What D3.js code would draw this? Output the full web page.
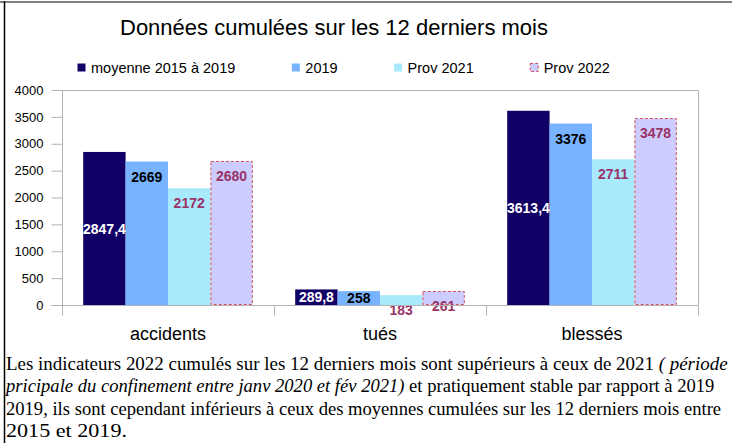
<!DOCTYPE html>
<html>
<head>
<meta charset="utf-8">
<script src="https://cdn.jsdelivr.net/npm/d3@7"></script>
<style>
  body { margin: 0; background: #fff; }
  svg { display: block; }
</style>
</head>
<body>
<div id="chart"></div>
<script>
// Données
const categories = ['accidents', 'tués', 'blessés'];
const seriesNames = ['moyenne 2015 à 2019', '2019', 'Prov 2021', 'Prov 2022'];
const moyenne2015a2019 = [2847.4, 289.8, 3613.4];
const annee2019 = [2669, 258, 3376];
const prov2021 = [2172, 183, 2711];
const prov2022 = [2680, 261, 3478];
const yTicks = [0, 500, 1000, 1500, 2000, 2500, 3000, 3500, 4000];
const titleText = 'Données cumulées sur les 12 derniers mois';
const paragraph = [
    [{ t: 'Les indicateurs 2022 cumulés sur les 12 derniers mois sont supérieurs à ceux de 2021 ' }, { t: '( période', i: true }],
    [{ t: 'pricipale du confinement entre janv 2020 et fév 2021)', i: true }, { t: ' et pratiquement stable par rapport à 2019' }],
    [{ t: '2019, ils sont cependant inférieurs à ceux des moyennes cumulées sur les 12 derniers mois entre' }],
    [{ t: '2015 et 2019.' }]
];
// largeur occupée par chaque ligne du commentaire
const lineWidths = [722, 711, 716, 121];

const allSeries = [moyenne2015a2019, annee2019, prov2021, prov2022];

const styles = [
    { fill: '#120066', label: '#ffffff', place: 'center' },
    { fill: '#77b3ff', label: '#000000', place: 'clamp' },
    { fill: '#a9e9fc', label: '#993366', place: 'inside' },
    { fill: '#ccccff', label: '#993366', place: 'inside', stroke: '#d2505c', dash: '3,2' }
];

const width = 732, height = 443;
const plot = { left: 62, right: 698, top: 90, bottom: 305 };

const svg = d3.select('#chart').append('svg')
    .attr('width', width)
    .attr('height', height)
    .style('font-family', '"Liberation Sans", Arial, sans-serif');

// cadre du document
svg.append('line')
    .attr('x1', 0).attr('x2', width).attr('y1', 2).attr('y2', 2)
    .attr('stroke', '#7f7f7f').attr('stroke-width', 2);
svg.append('line')
    .attr('x1', 4.5).attr('x2', 4.5).attr('y1', 1).attr('y2', height)
    .attr('stroke', '#000').attr('stroke-width', 1.5);

// titre
svg.append('text')
    .attr('x', 334).attr('y', 35)
    .attr('text-anchor', 'middle')
    .attr('font-size', '22px')
    .attr('fill', '#000')
    .text(titleText);

// légende
const legend = svg.append('g').attr('transform', 'translate(77,68)');
let lx = 0;
seriesNames.forEach((name, i) => {
    const item = legend.append('g').attr('transform', 'translate(' + lx + ',0)');
    item.append('rect')
        .attr('x', 0.5).attr('y', -4.5)
        .attr('width', 8).attr('height', 8)
        .attr('fill', styles[i].fill)
        .attr('stroke', styles[i].stroke || 'none')
        .attr('stroke-dasharray', styles[i].dash || null);
    const t = item.append('text')
        .attr('x', 14).attr('y', 5)
        .attr('font-size', '14.5px')
        .attr('fill', '#000')
        .text(name);
    lx += 14 + t.node().getComputedTextLength() + 56;
});

// échelles
const x0 = d3.scaleBand().domain(categories).range([plot.left, plot.right]).padding(0);
const x1 = d3.scaleBand().domain(d3.range(allSeries.length))
    .range([0, x0.bandwidth()]).paddingInner(0).paddingOuter(0.5);
const y = d3.scaleLinear().domain([0, 4000]).range([plot.bottom, plot.top]);

const axisColor = '#b3b3b3';

// cadre du graphique (haut et droite)
svg.append('path')
    .attr('d', 'M' + plot.left + ',' + (y(4000) + 0.5) + 'H' + (plot.right + 0.5) + 'V' + plot.bottom)
    .attr('fill', 'none').attr('stroke', axisColor);

// barres
const groups = svg.append('g').selectAll('g')
    .data(categories)
    .join('g')
    .attr('transform', d => 'translate(' + x0(d) + ',0)');

groups.selectAll('rect')
    .data((c, ci) => allSeries.map((s, si) => ({ si, v: s[ci] })))
    .join('rect')
    .attr('x', d => x1(d.si) + (styles[d.si].stroke ? 0.5 : 0))
    .attr('y', d => y(d.v) + (styles[d.si].stroke ? 0.5 : 0))
    .attr('width', d => x1.bandwidth() - (styles[d.si].stroke ? 1 : 0))
    .attr('height', d => y(0) - y(d.v) - (styles[d.si].stroke ? 1 : 0))
    .attr('fill', d => styles[d.si].fill)
    .attr('stroke', d => styles[d.si].stroke || 'none')
    .attr('stroke-dasharray', d => styles[d.si].dash || null);

// axe Y
const yAxis = svg.append('g')
    .attr('transform', 'translate(' + (plot.left + 0.5) + ',0)')
    .call(d3.axisLeft(y).tickValues(yTicks).tickSize(11).tickPadding(8).tickFormat(d3.format('d')));
yAxis.select('.domain').attr('stroke', axisColor).attr('d', 'M0,' + plot.top + 'V' + (plot.bottom + 10));
yAxis.selectAll('.tick line').attr('stroke', axisColor);
yAxis.selectAll('.tick text')
    .attr('font-size', '13px')
    .attr('font-family', '"Liberation Sans", Arial, sans-serif')
    .attr('fill', '#000');

// axe X
const xAxis = svg.append('g')
    .attr('transform', 'translate(0,' + (plot.bottom + 0.5) + ')')
    .call(d3.axisBottom(x0).tickSize(0).tickPadding(22));
xAxis.select('.domain').attr('stroke', axisColor).attr('d', 'M' + (plot.left - 11) + ',0H' + (plot.right + 0.5));
xAxis.selectAll('.tick text')
    .attr('font-size', '18px')
    .attr('font-family', '"Liberation Sans", Arial, sans-serif')
    .attr('fill', '#000');
xAxis.selectAll('.sep')
    .data(categories.map(c => x0(c)).concat([plot.right]))
    .join('line')
    .attr('class', 'sep')
    .attr('x1', d => Math.round(d) + 0.5).attr('x2', d => Math.round(d) + 0.5)
    .attr('y1', 0).attr('y2', 10)
    .attr('stroke', axisColor);

// étiquettes des valeurs
const fmt = v => String(v).replace('.', ',');
groups.selectAll('text.val')
    .data((c, ci) => allSeries.map((s, si) => ({ si, v: s[ci] })))
    .join('text')
    .attr('class', 'val')
    .attr('x', d => x1(d.si) + x1.bandwidth() / 2)
    .attr('y', d => {
        const top = y(d.v), mid = (y(d.v) + y(0)) / 2;
        const p = styles[d.si].place;
        if (p === 'center') return mid;
        if (p === 'clamp') return Math.min(top + 15, mid);
        return top + 15;
    })
    .attr('dy', '0.36em')
    .attr('text-anchor', 'middle')
    .attr('font-size', '14px')
    .attr('font-weight', 'bold')
    .attr('fill', d => styles[d.si].label)
    .text(d => fmt(d.v));

// commentaire sous le graphique
const para = svg.append('g')
    .attr('transform', 'translate(6,0)')
    .style('font-family', '"Liberation Serif", "Times New Roman", serif')
    .style('font-size', '18px')
    .attr('fill', '#000');
paragraph.forEach((parts, i) => {
    const g = para.append('g');
    const line = g.append('text')
        .attr('x', 0)
        .attr('y', 370 + i * 22.5);
    line.selectAll('tspan')
        .data(parts)
        .join('tspan')
        .style('font-style', d => d.i ? 'italic' : null)
        .text(d => d.t);
    const w = line.node().getBBox().width;
    g.attr('transform', 'scale(' + (lineWidths[i] / w) + ',1)');
});
</script>
</body>
</html>
